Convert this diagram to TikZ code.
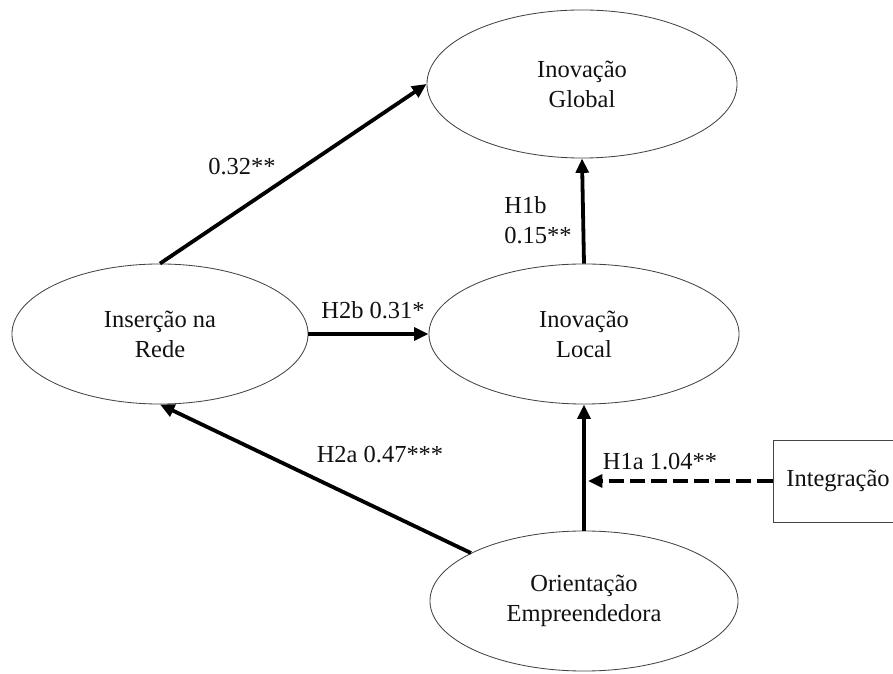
\documentclass[tikz,border=0pt]{standalone}
\usepackage{fontspec}
\setmainfont{Liberation Serif}
\usetikzlibrary{arrows.meta,positioning,shapes.geometric}
\definecolor{ink}{HTML}{111111}
\definecolor{edge}{HTML}{444444}
\tikzset{
  construct/.style={ellipse, draw=edge, line width=0.6pt, align=center, inner sep=0pt, font=\fontsize{17.4}{21.3}\selectfont, text=ink},
  modbox/.style={rectangle, draw=edge, line width=0.6pt, align=center, font=\fontsize{17.4}{21.3}\selectfont, text=ink, minimum width=3.25cm, minimum height=2.05cm},
  label/.style={font=\fontsize{17.4}{21.3}\selectfont, text=ink, align=center},
  arrow/.style={-{Triangle[length=0.36cm,width=0.32cm]}, line width=2.7pt, draw=black},
  dasharrow/.style={arrow, dash pattern=on 0.38cm off 0.15cm}
}
\begin{document}
\begin{tikzpicture}[x=0.025cm, y=-0.025cm]
\useasboundingbox (0,0) rectangle (893,674);
\clip (0,0) rectangle (893,674);
\node[construct, minimum width=7.75cm, minimum height=3.7cm] (glob) at (582,84) {Inovação\\Global};
\node[construct, minimum width=7.75cm, minimum height=3.5cm] (loc) at (584,334) {Inovação\\Local};
\node[construct, minimum width=7.4cm, minimum height=3.5cm] (ins) at (160,334) {Inserção na\\Rede};
\node[construct, minimum width=7.7cm, minimum height=3.5cm] (ori) at (584,601) {Orientação\\Empreendedora};
\node[modbox] (int) at (838,481) {Integração};
\coordinate (mod) at (588,481);
% paths
\draw[arrow] (ins.north) -- (glob.west);
\draw[arrow] (ins.east) -- (loc.west);
\draw[arrow] (loc.north) -- (glob.south);
\draw[arrow] (ori.157) -- (ins.south);
\draw[arrow] (ori.north) -- (loc.south);
\draw[dasharrow] (int.west) -- (mod);
% coefficients
\node[label] (l32) at (242,167) {0.32**};
\node[label] (l2b) at (373,310) {H2b 0.31*};
\node[label, align=left] (l1b) at (538,220) {H1b\\0.15**};
\node[label] (l2a) at (380,455) {H2a 0.47***};
\node[label] (l1a) at (660,462) {H1a 1.04**};
\end{tikzpicture}
\end{document}
